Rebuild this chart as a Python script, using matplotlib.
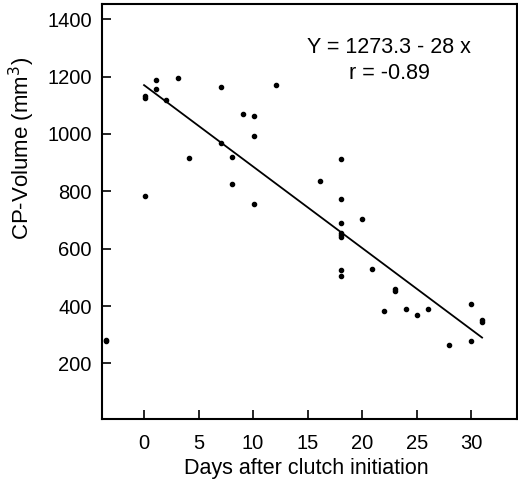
import matplotlib
matplotlib.use("Agg")
import matplotlib.pyplot as plt

plt.rcParams['font.family'] = ['Liberation Sans', 'DejaVu Sans']

###### DATA ######
days = [-3.5, -3.5, 0.1, 0.1, 0.1, 1.1, 1.1, 2.0, 3.1, 4.1, 7.1, 7.1, 8.1, 8.1,
        9.1, 10.1, 10.1, 10.1, 12.1, 16.1, 18.1, 18.1, 18.1, 18.1, 18.1, 18.1,
        18.1, 18.1, 20.0, 20.9, 22.0, 23.0, 23.0, 24.0, 25.0, 26.0, 28.0, 30.0,
        30.0, 31.0, 31.0]
volume = [279, 282, 1125, 1131, 785, 1188, 1155, 1118, 1196, 915, 1165, 967, 919, 825,
          1068, 1064, 993, 755, 1169, 836, 912, 774, 689, 654, 646, 640,
          524, 505, 704, 529, 384, 461, 451, 391, 370, 388, 263, 407,
          279, 353, 344]

# regression line as drawn
line_days = [0, 31]
line_volume = [1170, 290]

equation_text = "Y = 1273.3 - 28 x"
r_text = "r = -0.89"

x_ticks = [0, 5, 10, 15, 20, 25, 30]
y_ticks = [200, 400, 600, 800, 1000, 1200, 1400]

###### PLOT ######
fig = plt.figure(figsize=(5.18, 4.93), dpi=100)
ax = fig.add_axes([0.196, 0.150, 0.802, 0.842])

ax.scatter(days, volume, s=9, color='black', zorder=3)
ax.plot(line_days, line_volume, color='black', lw=1.3)

ax.text(22.5, 1300, equation_text, ha='center', va='center', fontsize=15.5)
ax.text(22.5, 1210, r_text, ha='center', va='center', fontsize=15.5)

ax.set_xlim(-3.9, 34.2)
ax.set_ylim(6, 1453)
ax.set_xticks(x_ticks)
ax.set_yticks(y_ticks)
ax.tick_params(axis='both', direction='in', length=6.5, width=1.2, labelsize=14.5)
ax.tick_params(axis='x', pad=11)
ax.tick_params(axis='y', pad=7)
for sp in ax.spines.values():
    sp.set_linewidth(1.5)

ax.set_xlabel('Days after clutch initiation', fontsize=15.5, va='center')
ax.xaxis.set_label_coords(0.493, -0.118)
ax.set_ylabel('CP-Volume (mm$^3$)', fontsize=16, va='center')
ax.yaxis.set_label_coords(-0.192, 0.653)

fig.savefig('out.png', dpi=100)
